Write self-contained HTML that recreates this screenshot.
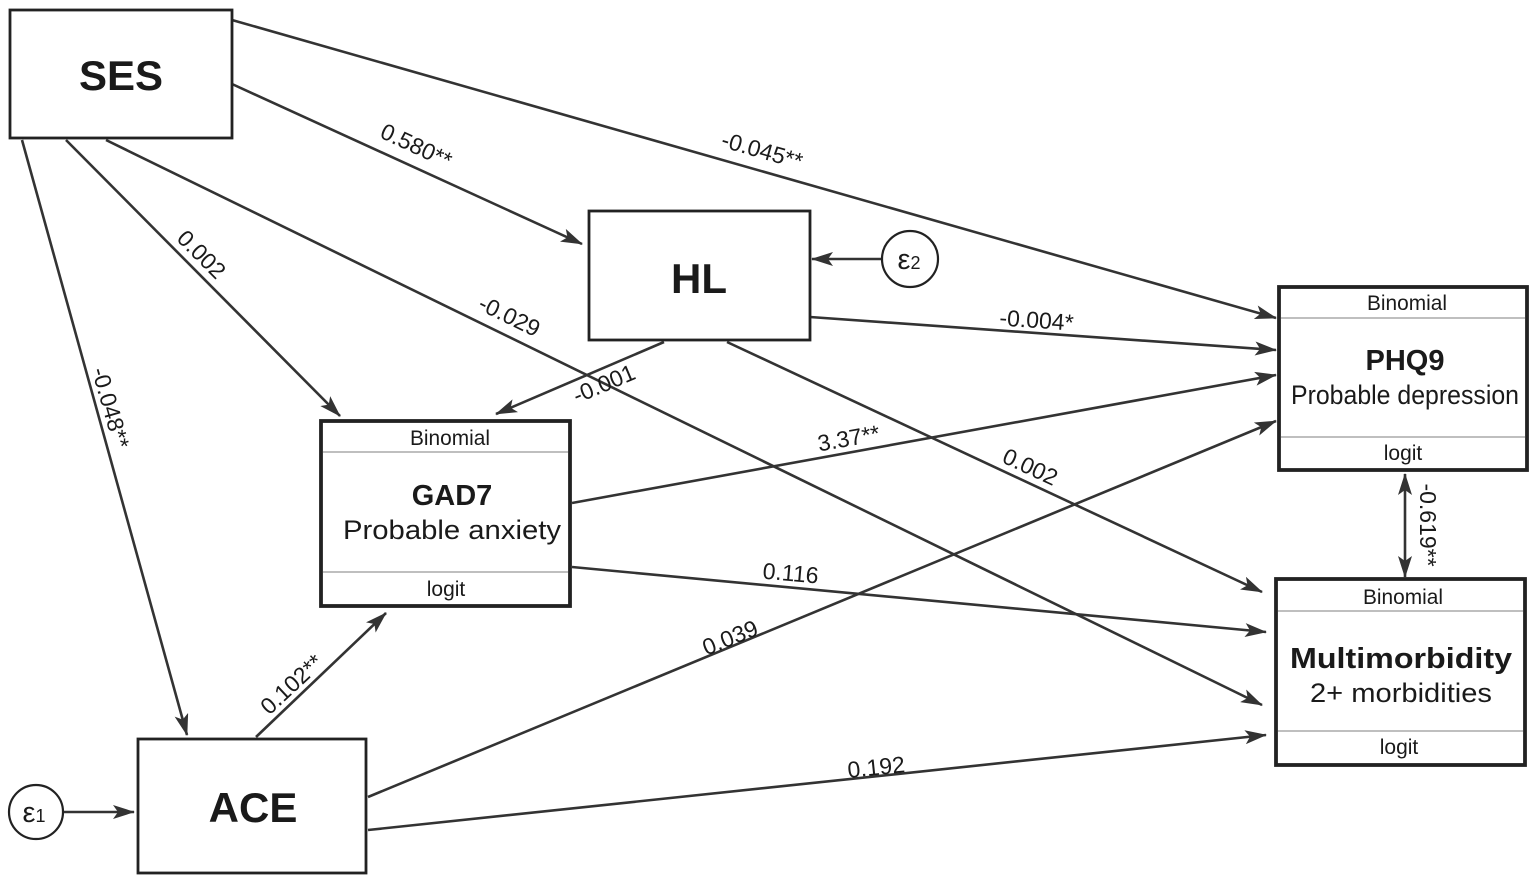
<!DOCTYPE html>
<html><head><meta charset="utf-8"><style>html,body{margin:0;padding:0;background:#fff}svg{display:block}text{font-family:"Liberation Sans",Arial,sans-serif;fill:#1a1a1a}</style></head>
<body>
<svg width="1535" height="882" viewBox="0 0 1535 882" xmlns="http://www.w3.org/2000/svg">
<defs>
<marker id="ah" viewBox="0 0 22 14" refX="21" refY="7" markerWidth="22" markerHeight="14" markerUnits="userSpaceOnUse" orient="auto-start-reverse"><path d="M0,0 L22,7 L0,14 L5,7 Z" fill="#333"/></marker>
</defs>
<g stroke="#333" stroke-width="2.6" fill="none" marker-end="url(#ah)">
<line x1="232" y1="20" x2="1276" y2="318"/>
<line x1="232" y1="84" x2="582" y2="244"/>
<line x1="66" y1="140" x2="340" y2="416"/>
<line x1="106" y1="140" x2="1262" y2="705"/>
<line x1="22" y1="140" x2="187" y2="735"/>
<line x1="810" y1="317" x2="1276" y2="350"/>
<line x1="664" y1="342" x2="496" y2="414"/>
<line x1="727" y1="342" x2="1262" y2="592"/>
<line x1="572" y1="503" x2="1276" y2="375"/>
<line x1="572" y1="567" x2="1266" y2="632"/>
<line x1="256" y1="737" x2="386" y2="613"/>
<line x1="368" y1="797" x2="1276" y2="421"/>
<line x1="368" y1="830" x2="1266" y2="735"/>
<line x1="63" y1="812" x2="134" y2="812"/>
<line x1="882" y1="259" x2="812" y2="259"/>
<line x1="1405" y1="577" x2="1405" y2="474" marker-start="url(#ah)"/>
</g>
<g fill="#fff" stroke="#222">
<rect x="10" y="10" width="222" height="128" stroke-width="2.8"/>
<rect x="589" y="211" width="221" height="129" stroke-width="2.8"/>
<rect x="138" y="739" width="228" height="134" stroke-width="2.8"/>
<rect x="321" y="421" width="249" height="185" stroke-width="3.8"/>
<rect x="1279" y="287" width="248" height="183" stroke-width="3.8"/>
<rect x="1276" y="579" width="249" height="186" stroke-width="3.8"/>
<circle cx="36" cy="812" r="27" stroke-width="2.2"/>
<circle cx="910" cy="259" r="28" stroke-width="2.2"/>
</g>
<g stroke="#999" stroke-width="1.2">
<line x1="323" y1="452" x2="568" y2="452"/><line x1="323" y1="572" x2="568" y2="572"/>
<line x1="1281" y1="318" x2="1525" y2="318"/><line x1="1281" y1="437" x2="1525" y2="437"/>
<line x1="1278" y1="611" x2="1523" y2="611"/><line x1="1278" y1="731" x2="1523" y2="731"/>
</g>
<g text-anchor="middle">
<text x="121" y="90" font-size="42" font-weight="bold">SES</text>
<text x="699" y="293" font-size="42" font-weight="bold">HL</text>
<text x="253" y="822" font-size="42" font-weight="bold">ACE</text>
<text x="450" y="445" font-size="21" textLength="80" lengthAdjust="spacingAndGlyphs">Binomial</text>
<text x="452" y="505" font-size="29" font-weight="bold">GAD7</text>
<text x="452" y="539" font-size="27" textLength="218" lengthAdjust="spacingAndGlyphs">Probable anxiety</text>
<text x="446" y="596" font-size="21">logit</text>
<text x="1407" y="310" font-size="21" textLength="80" lengthAdjust="spacingAndGlyphs">Binomial</text>
<text x="1405" y="370" font-size="29" font-weight="bold">PHQ9</text>
<text x="1405" y="404" font-size="27" textLength="228" lengthAdjust="spacingAndGlyphs">Probable depression</text>
<text x="1403" y="460" font-size="21">logit</text>
<text x="1403" y="604" font-size="21" textLength="80" lengthAdjust="spacingAndGlyphs">Binomial</text>
<text x="1401" y="668" font-size="29" font-weight="bold" textLength="222" lengthAdjust="spacingAndGlyphs">Multimorbidity</text>
<text x="1401" y="702" font-size="27" textLength="182" lengthAdjust="spacingAndGlyphs">2+ morbidities</text>
<text x="1399" y="754" font-size="21">logit</text>
<text x="34" y="822" font-size="29">ε<tspan font-size="18">1</tspan></text>
<text x="909" y="269" font-size="29">ε<tspan font-size="18">2</tspan></text>
</g>
<g font-size="23" text-anchor="middle">
<text transform="translate(760,158) rotate(16)">-0.045**</text>
<text transform="translate(413,153) rotate(25)">0.580**</text>
<text transform="translate(196,260) rotate(45)">0.002</text>
<text transform="translate(506,323) rotate(26)">-0.029</text>
<text transform="translate(103,410) rotate(74)">-0.048**</text>
<text transform="translate(1036,328) rotate(4)">-0.004*</text>
<text transform="translate(607,391) rotate(-23)">-0.001</text>
<text transform="translate(1027,474) rotate(25)">0.002</text>
<text transform="translate(850,446) rotate(-10)">3.37**</text>
<text transform="translate(790,581) rotate(5)">0.116</text>
<text transform="translate(297,690) rotate(-43)">0.102**</text>
<text transform="translate(733,645) rotate(-22)">0.039</text>
<text transform="translate(877,775) rotate(-6)">0.192</text>
<text transform="translate(1420,525) rotate(90)">-0.619**</text>
</g>
</svg>
</body></html>
